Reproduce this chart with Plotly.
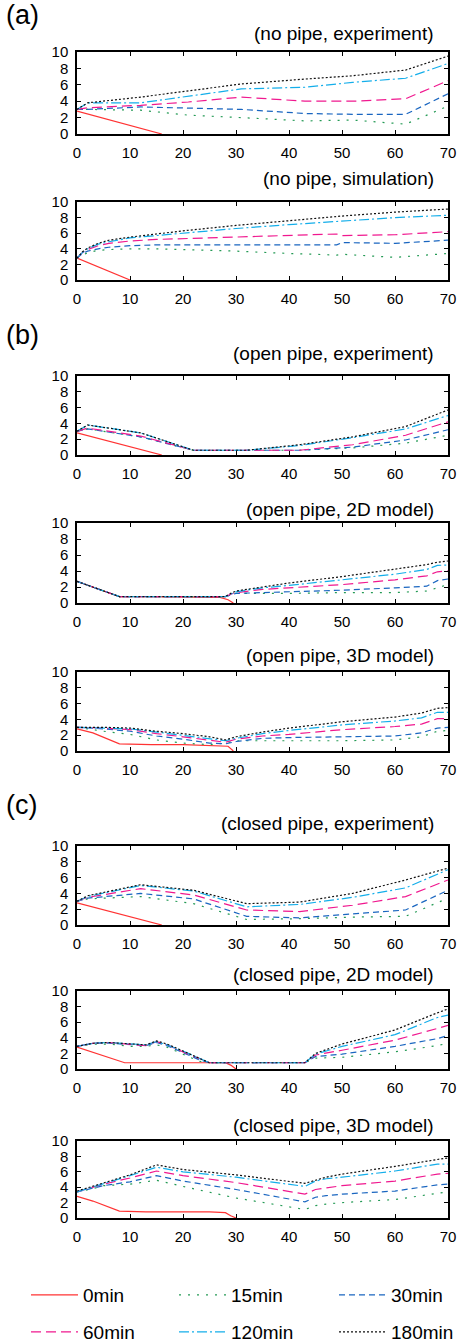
import plotly.graph_objects as go

W, H = 461, 1343

SERIES = ["0min", "15min", "30min", "60min", "120min", "180min"]
COLORS = ["#ff3333", "#249a55", "#1a66c0", "#f0188f", "#14aeea", "#111111"]
DASHES = ["solid", "2px,7px", "6px,4px", "10px,5px", "10px,3px,2px,3px", "2px,2px"]

X_TICKS = [0, 10, 20, 30, 40, 50, 60, 70]
Y_TICKS = [0, 2, 4, 6, 8, 10]

# ---- (a) no pipe, experiment
NPE_X0 = [0, 16]
NPE_Y0 = [2.8, 0.0]
NPE_X = [0, 2, 12, 21, 31, 43, 52, 62, 70]
NPE_15 = [3.0, 3.0, 2.9, 2.3, 2.0, 1.6, 1.7, 1.2, 3.4]
NPE_30 = [3.0, 3.0, 3.3, 3.2, 3.0, 2.5, 2.4, 2.4, 4.9]
NPE_60 = [3.0, 3.2, 3.5, 3.9, 4.5, 4.0, 4.0, 4.3, 6.5]
NPE_120 = [3.0, 3.8, 3.8, 4.6, 5.5, 5.7, 6.3, 6.8, 8.6]
NPE_180 = [3.0, 3.8, 4.5, 5.3, 6.1, 6.7, 7.1, 7.8, 9.5]

# ---- (a) no pipe, simulation
NPS_X0 = [0, 10]
NPS_Y0 = [2.8, 0.0]
NPS_X = [0, 1, 2, 4, 6, 10, 15, 20, 30, 40, 49, 50, 60, 70]
NPS_15 = [2.8, 3.2, 3.5, 3.8, 3.9, 4.0, 4.0, 3.9, 3.7, 3.4, 3.2, 3.3, 2.9, 3.4]
NPS_30 = [2.8, 3.4, 3.7, 4.0, 4.2, 4.4, 4.5, 4.5, 4.5, 4.5, 4.5, 4.8, 4.7, 5.1]
NPS_60 = [2.8, 3.5, 3.9, 4.4, 4.7, 5.0, 5.2, 5.3, 5.5, 5.7, 5.9, 5.7, 5.8, 6.2]
NPS_120 = [2.8, 3.5, 4.0, 4.6, 4.9, 5.4, 5.7, 6.0, 6.6, 7.1, 7.5, 7.6, 8.0, 8.3]
NPS_180 = [2.8, 3.6, 4.1, 4.7, 5.1, 5.5, 5.9, 6.3, 7.0, 7.6, 8.1, 8.2, 8.7, 9.1]

# ---- (b) open pipe, experiment
OPE_X0 = [0, 16]
OPE_Y0 = [2.8, 0.0]
OPE_X = [0, 2, 12, 22, 32, 42, 52, 62, 70]
OPE_15 = [3.0, 3.3, 2.3, 0.6, 0.6, 0.6, 0.9, 1.5, 2.5]
OPE_30 = [3.0, 3.3, 2.3, 0.6, 0.6, 0.6, 1.0, 1.9, 3.2]
OPE_60 = [3.0, 3.4, 2.4, 0.6, 0.6, 0.6, 1.3, 2.5, 4.2]
OPE_120 = [3.0, 3.8, 2.8, 0.6, 0.6, 1.2, 2.2, 3.3, 5.0]
OPE_180 = [3.0, 3.8, 2.8, 0.6, 0.6, 1.3, 2.3, 3.6, 5.7]

# ---- (b) open pipe, 2D model
OP2_X0 = [0, 8, 13, 27, 28.5, 29.5]
OP2_Y0 = [2.7, 0.8, 0.8, 0.7, 0.4, 0.0]
OP2_X = [0, 8, 13, 28, 29, 30, 35, 40, 50, 60, 66, 68, 70]
OP2_15 = [2.7, 0.8, 0.8, 0.8, 1.0, 1.2, 1.2, 1.2, 1.3, 1.3, 1.5, 1.9, 2.3]
OP2_30 = [2.7, 0.8, 0.8, 0.8, 1.0, 1.2, 1.3, 1.4, 1.6, 1.9, 2.1, 2.8, 3.0]
OP2_60 = [2.7, 0.8, 0.8, 0.8, 1.1, 1.3, 1.7, 1.9, 2.3, 2.9, 3.4, 3.9, 4.0]
OP2_120 = [2.7, 0.8, 0.8, 0.8, 1.1, 1.4, 1.9, 2.2, 2.9, 3.6, 4.2, 4.7, 4.75]
OP2_180 = [2.7, 0.8, 0.8, 0.8, 1.2, 1.5, 2.0, 2.5, 3.3, 4.2, 4.8, 5.1, 5.25]

# ---- (b) open pipe, 3D model
OP3_X0 = [0, 3, 8, 14, 20, 27, 28.5, 29.5]
OP3_Y0 = [2.8, 2.3, 0.9, 0.8, 0.8, 0.7, 0.6, 0.0]
OP3_X = [0, 5, 10, 15, 20, 25, 28, 30, 35, 40, 50, 60, 65, 68, 70]
OP3_15 = [3.0, 2.5, 2.1, 1.4, 1.0, 0.8, 1.0, 1.3, 1.3, 1.3, 1.3, 1.4, 1.8, 2.5, 2.6]
OP3_30 = [3.0, 2.8, 2.5, 1.9, 1.5, 1.0, 0.9, 1.2, 1.6, 1.7, 1.8, 1.9, 2.3, 2.9, 3.0]
OP3_60 = [3.0, 2.9, 2.7, 2.2, 1.8, 1.4, 1.1, 1.5, 1.9, 2.1, 2.7, 3.1, 3.4, 4.1, 4.1]
OP3_120 = [3.0, 2.9, 2.8, 2.4, 2.0, 1.6, 1.3, 1.6, 2.2, 2.6, 3.3, 3.8, 4.2, 4.9, 4.9]
OP3_180 = [3.0, 3.0, 2.9, 2.5, 2.2, 1.8, 1.4, 1.8, 2.4, 2.9, 3.7, 4.3, 4.8, 5.4, 5.5]

# ---- (c) closed pipe, experiment
CPE_X0 = [0, 16]
CPE_Y0 = [2.8, 0.0]
CPE_X = [0, 2, 12, 22, 32, 42, 52, 62, 70]
CPE_15 = [3.0, 3.3, 3.6, 2.7, 0.7, 0.8, 1.0, 1.1, 3.4]
CPE_30 = [3.0, 3.4, 4.0, 3.3, 1.1, 0.9, 1.4, 1.9, 4.4]
CPE_60 = [3.0, 3.5, 4.6, 3.8, 1.9, 1.7, 2.5, 3.6, 5.7]
CPE_120 = [3.0, 3.6, 5.0, 4.3, 2.3, 2.6, 3.5, 4.7, 7.0]
CPE_180 = [3.0, 3.7, 5.1, 4.4, 2.7, 2.9, 4.0, 5.7, 7.2]

# ---- (c) closed pipe, 2D model
CP2_X0 = [0, 5, 9, 28, 29, 30]
CP2_Y0 = [2.8, 1.7, 0.8, 0.8, 0.5, 0.0]
CP2_X = [0, 3, 6, 10, 13, 15, 17, 20, 23, 25, 43, 44, 45, 50, 60, 68, 70]
CP2_15 = [2.9, 3.2, 3.2, 2.9, 2.9, 3.1, 2.8, 1.9, 1.0, 0.8, 0.8, 1.1, 1.4, 1.5, 2.2, 3.0, 3.3]
CP2_30 = [2.9, 3.3, 3.3, 3.1, 3.0, 3.4, 3.0, 2.1, 1.2, 0.8, 0.8, 1.2, 1.6, 1.9, 2.9, 3.9, 4.3]
CP2_60 = [2.9, 3.3, 3.4, 3.2, 3.0, 3.5, 3.1, 2.2, 1.3, 0.8, 0.8, 1.3, 1.8, 2.4, 3.7, 5.2, 5.6]
CP2_120 = [2.9, 3.3, 3.4, 3.2, 3.1, 3.5, 3.1, 2.3, 1.4, 0.8, 0.8, 1.4, 1.9, 2.9, 4.4, 6.6, 6.9]
CP2_180 = [2.9, 3.3, 3.4, 3.2, 3.1, 3.6, 3.2, 2.3, 1.4, 0.8, 0.8, 1.4, 2.0, 3.2, 5.0, 7.2, 7.7]

# ---- (c) closed pipe, 3D model
CP3_X0 = [0, 3, 8, 13, 25, 28, 29, 30]
CP3_Y0 = [2.8, 2.2, 0.9, 0.8, 0.8, 0.7, 0.3, 0.0]
CP3_X = [0, 3, 5, 10, 15, 20, 30, 43, 45, 47, 50, 60, 68, 70]
CP3_15 = [3.4, 3.8, 4.2, 4.4, 4.9, 4.1, 2.6, 1.1, 1.6, 1.8, 2.0, 2.4, 3.2, 3.4]
CP3_30 = [3.4, 3.9, 4.2, 4.7, 5.5, 4.8, 3.7, 2.1, 2.7, 2.9, 3.1, 3.5, 4.3, 4.4]
CP3_60 = [3.4, 4.0, 4.4, 5.2, 6.1, 5.5, 4.6, 3.1, 3.7, 3.9, 4.2, 4.8, 5.7, 5.8]
CP3_120 = [3.4, 4.0, 4.5, 5.5, 6.6, 6.0, 5.3, 4.1, 4.8, 5.1, 5.3, 6.1, 7.0, 7.0]
CP3_180 = [3.5, 4.1, 4.6, 5.6, 6.9, 6.3, 5.6, 4.5, 4.9, 5.3, 5.7, 6.7, 7.6, 7.8]

TITLES = [
    "(no pipe, experiment)", "(no pipe, simulation)",
    "(open pipe, experiment)", "(open pipe, 2D model)", "(open pipe, 3D model)",
    "(closed pipe, experiment)", "(closed pipe, 2D model)", "(closed pipe, 3D model)",
]
GROUP_LABELS = ["(a)", "(b)", "(c)"]

PANELS = [
    (NPE_X0, NPE_Y0, NPE_X, [NPE_15, NPE_30, NPE_60, NPE_120, NPE_180]),
    (NPS_X0, NPS_Y0, NPS_X, [NPS_15, NPS_30, NPS_60, NPS_120, NPS_180]),
    (OPE_X0, OPE_Y0, OPE_X, [OPE_15, OPE_30, OPE_60, OPE_120, OPE_180]),
    (OP2_X0, OP2_Y0, OP2_X, [OP2_15, OP2_30, OP2_60, OP2_120, OP2_180]),
    (OP3_X0, OP3_Y0, OP3_X, [OP3_15, OP3_30, OP3_60, OP3_120, OP3_180]),
    (CPE_X0, CPE_Y0, CPE_X, [CPE_15, CPE_30, CPE_60, CPE_120, CPE_180]),
    (CP2_X0, CP2_Y0, CP2_X, [CP2_15, CP2_30, CP2_60, CP2_120, CP2_180]),
    (CP3_X0, CP3_Y0, CP3_X, [CP3_15, CP3_30, CP3_60, CP3_120, CP3_180]),
]

# layout geometry (pixels)
BOX_TOP = [52, 202, 376, 523, 672, 846, 991, 1141]
BOX_BOT = [134, 280, 455, 603, 751, 925, 1069, 1218]
TITLE_Y = [33, 179, 353, 509, 655, 823, 975, 1125]
GROUP_Y = [15, 335, 805]
X_LEFT, X_RIGHT = 77, 448
LEG_X = [32, 180, 340]
LEG_Y = [1295, 1332]

FONT = "Liberation Sans, Arial, Helvetica, sans-serif"


def py(p):
    return 1 - p / H


fig = go.Figure()
layout = dict(
    width=W, height=H, margin=dict(l=0, r=0, t=0, b=0, pad=0, autoexpand=False),
    paper_bgcolor="white", plot_bgcolor="white",
    font=dict(family=FONT, color="black", size=15),
    annotations=[],
)

for i, (x0, y0, xs, ys) in enumerate(PANELS):
    n = i + 1
    xa = "x" if n == 1 else f"x{n}"
    ya = "y" if n == 1 else f"y{n}"
    series_x = [x0] + [xs] * 5
    series_y = [y0] + ys
    for k in range(6):
        tr = go.Scatter(
            x=series_x[k], y=series_y[k], mode="lines",
            name=SERIES[k], xaxis=xa, yaxis=ya,
            line=dict(color=COLORS[k], dash=DASHES[k], width=1.2),
            showlegend=(i == 0), hoverinfo="skip",
        )
        if i == 0:
            tr.legend = "legend" if k == 0 else f"legend{k + 1}"
        fig.add_trace(tr)
    axkw = dict(showline=True, linecolor="black", linewidth=1.5, mirror="ticks",
                ticks="inside", ticklen=4, tickwidth=1, tickcolor="black",
                showgrid=False, zeroline=False, automargin=False,
                tickfont=dict(size=15, color="black"))
    layout["xaxis" if n == 1 else f"xaxis{n}"] = dict(
        domain=[X_LEFT / W, X_RIGHT / W], range=[0, 70], tickvals=X_TICKS,
        anchor=ya, ticklabelstandoff=4, **axkw)
    layout["yaxis" if n == 1 else f"yaxis{n}"] = dict(
        domain=[py(BOX_BOT[i]), py(BOX_TOP[i])], range=[0, 10], tickvals=Y_TICKS,
        anchor=xa, ticklabelstandoff=4, **axkw)
    layout["annotations"].append(dict(
        text=TITLES[i], xref="paper", yref="paper", x=436 / W, y=py(TITLE_Y[i]),
        xanchor="right", yanchor="middle", showarrow=False,
        font=dict(size=19, color="black", family=FONT)))

for g, lab in enumerate(GROUP_LABELS):
    layout["annotations"].append(dict(
        text=lab, xref="paper", yref="paper", x=4 / W, y=py(GROUP_Y[g]),
        xanchor="left", yanchor="middle", showarrow=False,
        font=dict(size=27, color="black", family=FONT)))

legkw = dict(orientation="v", xref="paper", yref="paper", xanchor="left", yanchor="middle",
             bgcolor="rgba(0,0,0,0)", borderwidth=0,
             font=dict(size=19, color="black", family=FONT), itemwidth=47)
for k in range(6):
    key = "legend" if k == 0 else f"legend{k + 1}"
    layout[key] = dict(x=(LEG_X[k % 3] - 6) / W, y=py(LEG_Y[k // 3]), **legkw)

fig.update_layout(**layout)
fig.write_html("out.html", config={"displayModeBar": False},
               post_script="document.body.style.margin='0px';")
